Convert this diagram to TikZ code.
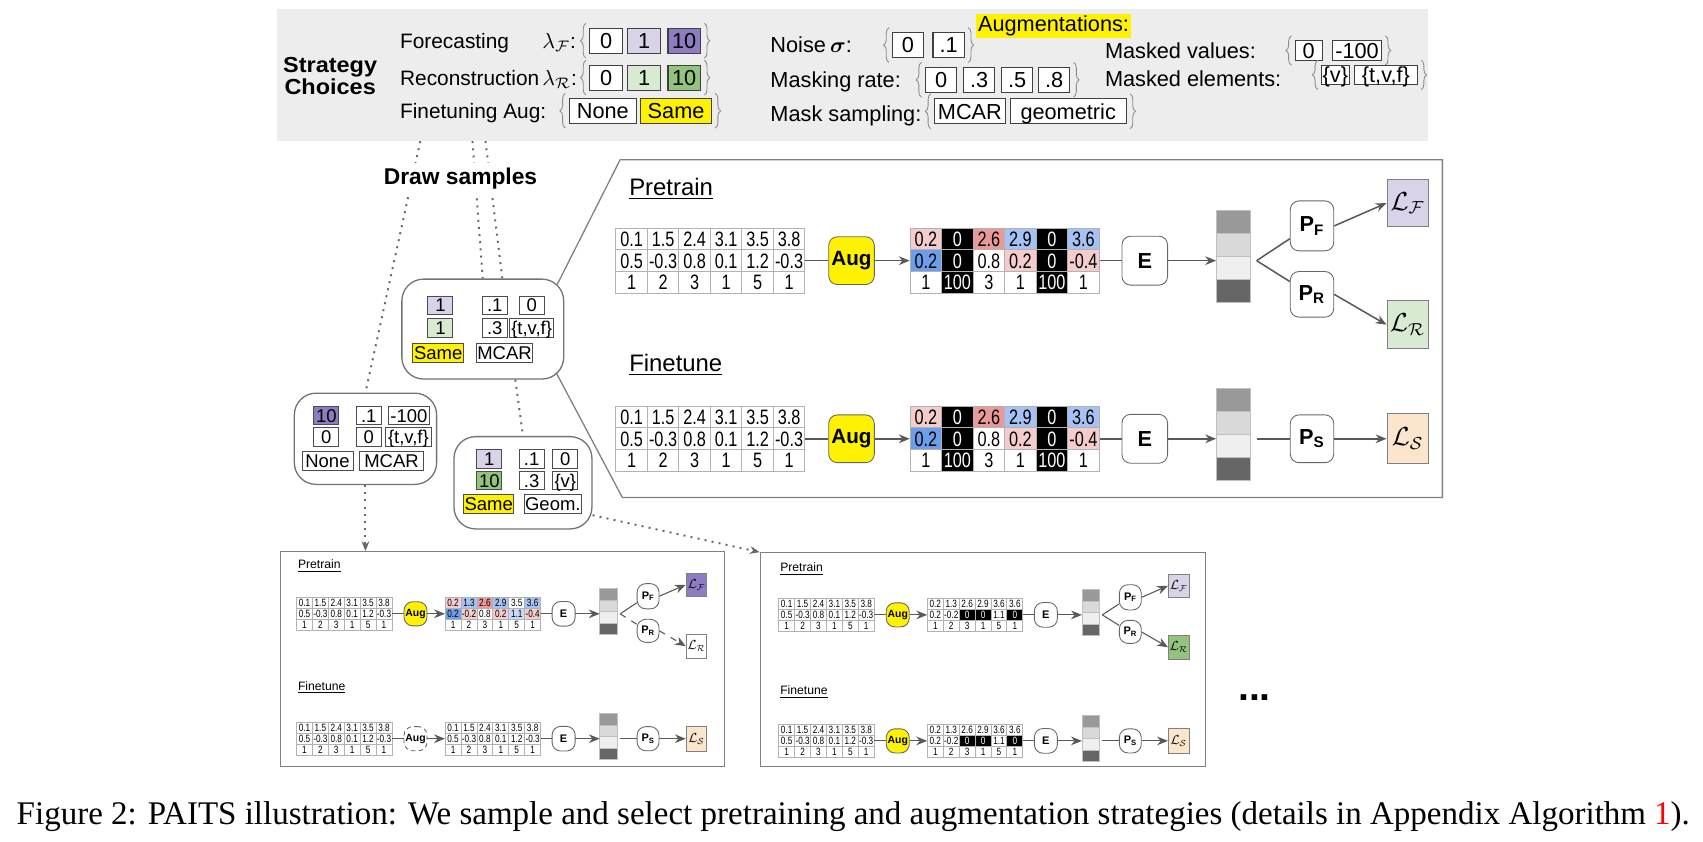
\documentclass[tikz,border=0pt]{standalone}
\usepackage{amsmath}
\usepackage{fontspec}
\setmainfont{Liberation Sans}
\newfontfamily\captionfont{Liberation Serif}
\newfontfamily\condsans[FakeStretch=0.78]{Liberation Sans}
\newfontfamily\widesans[FakeStretch=1.08]{Liberation Sans}
\usetikzlibrary{arrows.meta,decorations.pathreplacing}

\definecolor{lpurple}{HTML}{D9D2E9}
\definecolor{dpurple}{HTML}{8E7CC3}
\definecolor{lgreen}{HTML}{D9EAD3}
\definecolor{mgreen}{HTML}{93C47D}
\definecolor{lorange}{HTML}{FCE5CD}
\definecolor{pinkA}{HTML}{F4CCCC}
\definecolor{pinkB}{HTML}{EA9999}
\definecolor{blueA}{HTML}{A4C2F4}
\definecolor{blueB}{HTML}{6D9EEB}
\definecolor{blueC}{HTML}{C9DAF8}
\definecolor{vecA}{HTML}{999999}
\definecolor{vecB}{HTML}{D9D9D9}
\definecolor{vecC}{HTML}{EFEFEF}
\definecolor{vecD}{HTML}{666666}

\tikzset{
  lbl/.style={anchor=west, inner sep=0pt, text height=7.2pt, text depth=0pt,
    font=\fontsize{10}{10}\selectfont},
  leftlbl/.style={lbl, font=\fontsize{9.6}{9.6}\selectfont},
  stratlbl/.style={align=center, inner sep=0pt,
    font=\widesans\bfseries\fontsize{10}{10.4}\selectfont},
  chbox/.style={draw=black!75, fill=white, line width=0.5pt, inner sep=0.5pt,
    minimum height=11.5pt, text height=7.2pt, text depth=0pt,
    font=\fontsize{10}{10}\selectfont},
  chbrace/.style={decorate, decoration={brace, amplitude=2.5pt},
    draw=black!45, line width=0.4pt},
  sbox/.style={draw=black!70, fill=white, inner sep=0pt, minimum height=8.5pt,
    text height=6.1pt, text depth=0pt, font=\fontsize{8.5}{8.5}\selectfont},
  sampbox/.style={draw=black!55, fill=white, rounded corners=10pt, line width=0.6pt},
  panelbox/.style={draw=black!50, line width=0.6pt, inner sep=0pt},
  tcell/.style={draw=black!30, line width=0.4pt, fill=white, minimum width=14.5pt,
    minimum height=10pt, inner sep=0pt, text height=6.8pt, text depth=0pt,
    font=\condsans\fontsize{9.6}{9.6}\selectfont},
  wc/.style={},
  kc/.style={fill=black, text=white},
  pk/.style={fill=pinkA},
  rd/.style={fill=pinkB},
  lb/.style={fill=blueA},
  bl/.style={fill=blueB},
  vb/.style={fill=blueC},
  vcell/.style={draw=black!25, line width=0.3pt, minimum width=15.5pt,
    minimum height=10.5pt, inner sep=0pt},
  augbox/.style={draw=black!60, fill=yellow, rounded corners=4pt, minimum width=21pt,
    minimum height=22pt, inner sep=0pt, font=\bfseries\fontsize{9.5}{9.5}\selectfont},
  augoff/.style={augbox, fill=white, dash pattern=on 2pt off 1.5pt},
  encbox/.style={draw=black!60, fill=white, rounded corners=4pt, minimum width=21pt,
    minimum height=22.5pt, inner sep=0pt, font=\bfseries\fontsize{10}{10}\selectfont},
  projbox/.style={encbox, minimum width=20pt, minimum height=22pt},
  lossbox/.style={draw=black!50, minimum width=19pt, minimum height=21.5pt,
    inner sep=0pt, font=\fontsize{12}{12}\selectfont},
  stagelbl/.style={anchor=west, inner sep=0pt, font=\fontsize{11}{11}\selectfont},
  conn/.style={draw=black!65, line width=0.7pt},
  arr/.style={conn, -{Stealth[length=5pt, width=4pt]}},
  dotline/.style={draw=black!60, line width=0.9pt, dash pattern=on 0.9pt off 2.4pt},
  dotarr/.style={dotline, -{Stealth[length=4.5pt, width=3.5pt]}},
  calloutline/.style={draw=black!50, line width=0.6pt}
}

% table rows: style/value
\newcommand{\rawrows}{{wc/0.1,wc/1.5,wc/2.4,wc/3.1,wc/3.5,wc/3.8},{wc/0.5,wc/-0.3,wc/0.8,wc/0.1,wc/1.2,wc/-0.3},{wc/1,wc/2,wc/3,wc/1,wc/5,wc/1}}
\newcommand{\mainaug}{{pk/0.2,kc/0,rd/2.6,lb/2.9,kc/0,lb/3.6},{bl/0.2,kc/0,wc/0.8,pk/0.2,kc/0,pk/-0.4},{wc/1,kc/100,wc/3,wc/1,kc/100,wc/1}}
\newcommand{\leftaug}{{pk/0.2,lb/1.3,rd/2.6,lb/2.9,wc/3.5,lb/3.6},{bl/0.2,pk/-0.2,wc/0.8,pk/0.2,vb/1.1,pk/-0.4},{wc/1,wc/2,wc/3,wc/1,wc/5,wc/1}}
\newcommand{\rightaug}{{wc/0.2,wc/1.3,wc/2.6,wc/2.9,wc/3.6,wc/3.6},{wc/0.2,wc/-0.2,kc/0,kc/0,wc/1.1,kc/0},{wc/1,wc/2,wc/3,wc/1,wc/5,wc/1}}

% #1 name, #2 x, #3 y (top left), #4 rows
\newcommand{\celltable}[4]{%
  \foreach \rw [count=\ri] in #4 {
    \foreach \cst/\cvl [count=\ci] in \rw {
      \node[tcell,\cst] (#1-\ri-\ci) at ({#2+(\ci-0.5)*29},{#3+(\ri-0.5)*20}) {\cvl};
    }
  }%
}

% braces round a group of choice boxes
\newcommand{\chbraces}[2]{%
  \draw[chbrace] ([xshift=-1.5pt,yshift=-2pt]#1.south west) -- ([xshift=-1.5pt,yshift=2pt]#1.north west);
  \draw[chbrace] ([xshift=1.5pt,yshift=2pt]#2.north east) -- ([xshift=1.5pt,yshift=-2pt]#2.south east);%
}

% data -> Aug -> data -> E -> embedding
\newcommand{\trunk}[3]{%
  \celltable{#1-raw}{0}{0}{\rawrows}
  \node[#2] (#1-aug) at (217,30) {Aug};
  \celltable{#1-tab}{271}{0}{#3}
  \node[encbox] (#1-enc) at (487,30) {E};
  \foreach \vf [count=\vi] in {vecA,vecB,vecC,vecD}
    \node[vcell, fill=\vf] (#1-v\vi) at (568.5,{-5.5+21*(\vi-1)}) {};
  \draw[conn] (#1-raw-2-6.east) -- (#1-aug.west);
  \draw[arr] (#1-aug.east) -- (#1-tab-2-1.west);
  \draw[conn] (#1-tab-2-6.east) -- (#1-enc.west);
  \draw[arr] (#1-enc.east) -- (#1-enc.east -| #1-v3.west);%
}

% two heads: #2 fill of L_F, #3 fill of L_R, #4 line of the R branch
\newcommand{\pretrainheads}[4]{%
  \coordinate (#1-br) at (590,30);
  \node[projbox, minimum height=23pt] (#1-pf) at (641,-2) {P\textsubscript{F}};
  \node[projbox, minimum height=21pt] (#1-pr) at (641,61) {P\textsubscript{R}};
  \node[lossbox, fill=#2] (#1-lf) at (729,-23) {$\mathcal{L}_{\mathcal{F}}$};
  \node[lossbox, fill=#3, minimum height=22pt] (#1-lr) at (729,89) {$\mathcal{L}_{\mathcal{R}}$};
  \draw[conn] (#1-br) -- (#1-pf.-150);
  \draw[conn, #4] (#1-br) -- (#1-pr.150);
  \draw[arr] (#1-pf.east) -- (#1-lf.west);
  \draw[arr, #4] (#1-pr.east) -- (#1-lr.west);%
}

\newcommand{\finetunehead}[1]{%
  \coordinate (#1-br) at (590,30);
  \node[projbox] (#1-ps) at (641,30) {P\textsubscript{S}};
  \node[lossbox, fill=lorange, minimum height=23pt] (#1-ls) at (729,30) {$\mathcal{L}_{\mathcal{S}}$};
  \draw[conn] (#1-br) -- (#1-ps.west);
  \draw[arr] (#1-ps.east) -- (#1-ls.west);%
}

\begin{document}
\begin{tikzpicture}[x=0.5pt, y=-0.5pt]
  \useasboundingbox (0,0) rectangle (1568,775);

  % Strategy choices
  \node[fill=black!7, minimum width=530pt, minimum height=61pt, inner sep=0pt] (choices) at (785,69) {};
  \node[stratlbl] (strat) at (304,70) {Strategy\\Choices};

  \node[leftlbl] (fcast) at (368,37.5) {Forecasting};
  \node[leftlbl] (lamF) at (499,37.5) {$\lambda_{\mathcal{F}}$:};
  \node[chbox, minimum width=15pt] (f0) at (558,37.5) {0};
  \node[chbox, minimum width=15pt, fill=lpurple] (f1) at (593,37.5) {1};
  \node[chbox, minimum width=15pt, fill=dpurple] (f10) at (630,37.5) {10};
  \chbraces{f0}{f10}

  \node[leftlbl] (recon) at (368,71.5) {Reconstruction};
  \node[leftlbl] (lamR) at (499,71.5) {$\lambda_{\mathcal{R}}$:};
  \node[chbox, minimum width=15pt] (r0) at (558,71.5) {0};
  \node[chbox, minimum width=15pt, fill=lgreen] (r1) at (593,71.5) {1};
  \node[chbox, minimum width=15pt, fill=mgreen] (r10) at (630,71.5) {10};
  \chbraces{r0}{r10}

  \node[leftlbl] (ftaug) at (368,102) {Finetuning Aug:};
  \node[chbox, minimum width=31pt] (fnone) at (555,102) {None};
  \node[chbox, minimum width=32.5pt, fill=yellow] (fsame) at (622.5,102) {Same};
  \chbraces{fnone}{fsame}

  % Augmentations
  \node[fill=yellow, inner sep=1pt, font=\fontsize{10}{10}\selectfont] (augt) at (970,24) {Augmentations:};

  \node[lbl] (noise) at (709,41.5) {Noise};
  \node[lbl] (sig) at (764,41.5) {$\boldsymbol{\sigma}$:};
  \node[chbox, minimum width=14pt] (n0) at (836,41.5) {0};
  \node[chbox, minimum width=14.5pt] (n1) at (873.5,41.5) {.1};
  \chbraces{n0}{n1}

  \node[lbl] (mrate) at (709,73.5) {Masking rate:};
  \node[chbox, minimum width=14.5pt] (mr0) at (866.5,73.5) {0};
  \node[chbox, minimum width=14.5pt] (mr1) at (901.5,73.5) {.3};
  \node[chbox, minimum width=14.5pt] (mr2) at (936.5,73.5) {.5};
  \node[chbox, minimum width=14.5pt] (mr3) at (970.5,73.5) {.8};
  \chbraces{mr0}{mr3}

  \node[lbl] (msamp) at (709,105) {Mask sampling:};
  \node[chbox, minimum width=32.5pt] (ms0) at (893,102.5) {MCAR};
  \node[chbox, minimum width=53.5pt] (ms1) at (983.5,102.5) {geometric};
  \chbraces{ms0}{ms1}

  \node[lbl] (mval) at (1017,46.5) {Masked values:};
  \node[chbox, minimum width=12.5pt, minimum height=9pt] (mv0) at (1205,46.5) {0};
  \node[chbox, minimum width=22.5pt, minimum height=9pt] (mv1) at (1249.5,46.5) {-100};
  \chbraces{mv0}{mv1}

  \node[lbl] (melem) at (1017,72) {Masked elements:};
  \node[chbox, minimum width=12.5pt, minimum height=9pt] (me0) at (1229.5,69) {\{v\}};
  \node[chbox, minimum width=29pt, minimum height=9pt] (me1) at (1276,69) {\{t,v,f\}};
  \chbraces{me0}{me1}

  % Sampled strategies
  \node[sampbox, minimum width=74.5pt, minimum height=46pt] (midsamp) at (444.5,303) {};
  \node[sampbox, minimum width=65.5pt, minimum height=42pt] (leftsamp) at (336.5,404) {};
  \node[sampbox, minimum width=63.5pt, minimum height=42.5pt] (lowsamp) at (481.5,444.5) {};

  \node[sbox, minimum width=11.5pt, fill=lpurple] (m1) at (405.5,281) {1};
  \node[sbox, minimum width=11.5pt] (m2) at (455.5,281) {.1};
  \node[sbox, minimum width=11.5pt] (m3) at (489.5,281) {0};
  \node[sbox, minimum width=11.5pt, fill=lgreen] (m4) at (405.5,302) {1};
  \node[sbox, minimum width=11.5pt] (m5) at (455.5,302) {.3};
  \node[sbox, minimum width=20.5pt] (m6) at (489.5,302) {\{t,v,f\}};
  \node[sbox, minimum width=23.5pt, fill=yellow] (m7) at (403.5,325) {Same};
  \node[sbox, minimum width=25.5pt] (m8) at (464.5,325) {MCAR};

  \node[sbox, minimum width=11.5pt, fill=dpurple] (l1) at (300.5,382.5) {10};
  \node[sbox, minimum width=11.5pt] (l2) at (339.5,382.5) {.1};
  \node[sbox, minimum width=18.5pt] (l3) at (376.5,382.5) {-100};
  \node[sbox, minimum width=11.5pt] (l4) at (300.5,402.5) {0};
  \node[sbox, minimum width=11.5pt] (l5) at (339.5,402.5) {0};
  \node[sbox, minimum width=21pt] (l6) at (376,402.5) {\{t,v,f\}};
  \node[sbox, minimum width=23.5pt] (l7) at (301.5,424.5) {None};
  \node[sbox, minimum width=29.5pt] (l8) at (360.5,424.5) {MCAR};

  \node[sbox, minimum width=11.5pt, fill=lpurple] (g1) at (450.5,422.5) {1};
  \node[sbox, minimum width=11.5pt] (g2) at (489.5,422.5) {.1};
  \node[sbox, minimum width=11.5pt] (g3) at (520.5,422.5) {0};
  \node[sbox, minimum width=11.5pt, fill=mgreen] (g4) at (450.5,442.5) {10};
  \node[sbox, minimum width=11.5pt] (g5) at (489.5,442.5) {.3};
  \node[sbox, minimum width=11.5pt] (g6) at (520.5,442.5) {\{v\}};
  \node[sbox, minimum width=23pt, fill=yellow] (g7) at (450,464) {Same};
  \node[sbox, minimum width=26pt] (g8) at (509,464) {Geom.};

  % Bottom panels
  \node[panelbox, minimum width=204.5pt, minimum height=99pt] (blpanel) at (462.5,607) {};
  \node[panelbox, minimum width=205pt, minimum height=98.5pt] (brpanel) at (905,607.5) {};

  % Dotted draws
  \coordinate (dsA) at (387,130);
  \coordinate (dsB) at (435,130);
  \coordinate (dsC) at (447,130);
  \draw[dotline] (dsA) -- (leftsamp.north);
  \draw[dotline] (dsB) -- (midsamp.north);
  \draw[dotline] (dsC) -- ([xshift=9pt]midsamp.north);
  \draw[dotline] ([xshift=15pt]midsamp.south) -- (lowsamp.north);
  \draw[dotarr] (leftsamp.south) -- (leftsamp.south |- blpanel.north);
  \draw[dotarr] (lowsamp.-25) -- (brpanel.north west);
  \node[fill=white, inner sep=2pt, font=\bfseries\fontsize{10.5}{10.5}\selectfont] (draw) at (424,164) {Draw samples};

  % Zoomed sample
  \coordinate (zA) at (513,262);
  \coordinate (zB) at (512,343);
  \coordinate (zTL) at (571,147);
  \coordinate (zTR) at (1328,147);
  \coordinate (zBR) at (1328,458);
  \coordinate (zBL) at (573,458);
  \draw[calloutline] (zA) -- (zTL) -- (zTR) -- (zBR) -- (zBL) -- (zB);

  \node[stagelbl] (mptitle) at (579,174) {\underline{Pretrain}};
  \node[stagelbl] (mftitle) at (579,336) {\underline{Finetune}};
  \begin{scope}[shift={(567,210)}]
    \trunk{mp}{augbox}{\mainaug}
    \pretrainheads{mp}{lpurple}{lgreen}{solid}
  \end{scope}
  \begin{scope}[shift={(567,374)}]
    \trunk{mf}{augbox}{\mainaug}
    \finetunehead{mf}
  \end{scope}

  % Bottom left
  \node[stagelbl, font=\fontsize{5.6}{5.6}\selectfont] (lptitle) at (274,521) {\underline{Pretrain}};
  \node[stagelbl, font=\fontsize{5.6}{5.6}\selectfont] (lftitle) at (274,633) {\underline{Finetune}};
  \begin{scope}[shift={(273,550)}, scale=0.505, transform shape, conn/.append style={line width=0.5pt}]
    \trunk{lp}{augbox}{\leftaug}
    \pretrainheads{lp}{dpurple}{white}{dashed}
  \end{scope}
  \begin{scope}[shift={(273,665)}, scale=0.505, transform shape, conn/.append style={line width=0.5pt}]
    \trunk{lf}{augoff}{\rawrows}
    \finetunehead{lf}
  \end{scope}

  % Bottom right
  \node[stagelbl, font=\fontsize{5.6}{5.6}\selectfont] (rptitle) at (718,524) {\underline{Pretrain}};
  \node[stagelbl, font=\fontsize{5.6}{5.6}\selectfont] (rftitle) at (718,637) {\underline{Finetune}};
  \begin{scope}[shift={(717,551)}, scale=0.505, transform shape, conn/.append style={line width=0.5pt}]
    \trunk{rp}{augbox}{\rightaug}
    \pretrainheads{rp}{lpurple}{mgreen}{solid}
  \end{scope}
  \begin{scope}[shift={(717,667)}, scale=0.505, transform shape, conn/.append style={line width=0.5pt}]
    \trunk{rf}{augbox}{\rightaug}
    \finetunehead{rf}
  \end{scope}

  \node[anchor=base, inner sep=0pt, font=\bfseries\fontsize{18}{18}\selectfont] (more) at (1155,645) {...};

  % Caption
  \node[anchor=west, inner sep=0pt, font=\captionfont\fontsize{15.2}{15.2}\selectfont] (caption) at (15,752)
    {Figure 2: PAITS illustration: We sample and select pretraining and augmentation strategies (details in Appendix Algorithm \textcolor{red}{1}).};
\end{tikzpicture}
\end{document}
